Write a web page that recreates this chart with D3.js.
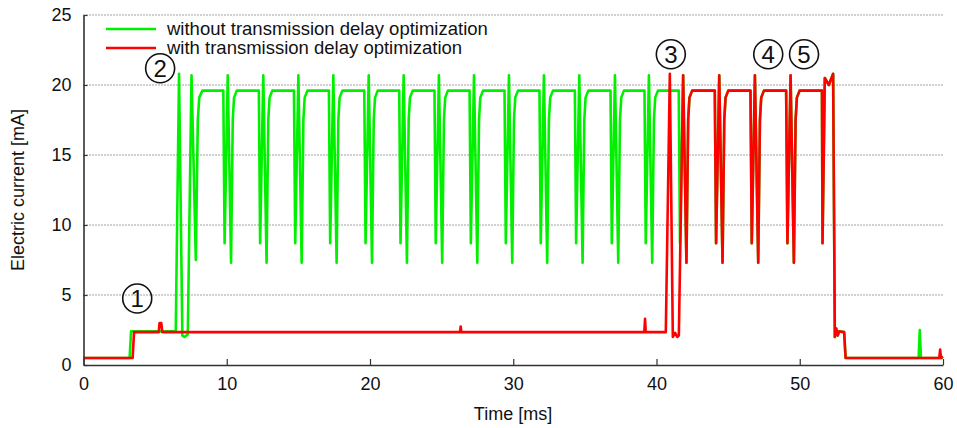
<!DOCTYPE html>
<html>
<head>
<meta charset="utf-8">
<script src="https://cdn.jsdelivr.net/npm/d3@7"></script>
<style>
  body { margin: 0; background: #fff; }
  svg text { font-family: "Liberation Sans", Arial, Helvetica, sans-serif; fill: #111; }
</style>
</head>
<body>
<svg id="chart" width="957" height="428"></svg>
<script>
// ---- axis ticks ----
const xTicks = [0, 10, 20, 30, 40, 50, 60];
const yTicks = [0, 5, 10, 15, 20, 25];
const gridTicks = [5, 10, 15, 20, 25];

// ---- series labels ----
const seriesNames = ["without transmission delay optimization", "with transmission delay optimization"];
const seriesColors = ["#00f000", "#ff0000"];

// ---- one radio burst: time offset from the burst peak [ms] and current [mA] ----
const burstOffsets = [-0.31, -0.22, 0, 0.23, 0.35, 0.44, 0.63];
const burstValues  = [19.6, 8.7, 20.7, 7.3, 17.5, 19.1, 19.6];

// ---- burst peak times [ms] ----
const greenBurstPeaks = [10.07, 12.55, 15.00, 17.44, 19.91, 22.35, 24.81, 27.26, 29.70, 32.14,
                         34.61, 37.10, 39.47, 41.86, 44.38, 46.87, 49.36];
const redBurstPeaks   = [44.38, 46.87, 49.36];

// ---- current before the periodic bursts [ms, mA] ----
const greenStart = [[0, 0.5], [3.22, 0.5], [3.32, 2.4], [6.44, 2.4], [6.67, 20.8], [6.90, 2.1],
                    [7.05, 2.0], [7.28, 2.2], [7.54, 20.7], [7.84, 7.5], [7.98, 17.5], [8.08, 19.1], [8.30, 19.6]];
const redStart   = [[0, 0.5], [3.43, 0.5], [3.53, 2.35], [5.25, 2.35], [5.31, 3.0], [5.43, 3.0], [5.50, 2.35],
                    [26.28, 2.35], [26.33, 2.75], [26.38, 2.35], [39.15, 2.35], [39.20, 3.3], [39.25, 2.35],
                    [40.65, 2.35], [40.93, 20.8], [41.14, 2.0], [41.30, 2.3], [41.45, 2.0], [41.56, 2.1],
                    [41.86, 20.7], [42.09, 7.3], [42.21, 17.5], [42.30, 19.1], [42.49, 19.6]];

// ---- current after the bursts [ms, mA] ----
const greenEnd = [[51.55, 19.6], [51.59, 8.7], [51.75, 20.5], [52.03, 20.0], [52.33, 20.8], [52.45, 2.0],
                  [52.55, 2.6], [52.65, 2.1], [52.75, 2.4], [53.10, 2.35], [53.20, 0.5],
                  [58.30, 0.5], [58.38, 2.5], [58.46, 0.5], [60, 0.5]];
const redEnd   = [[51.55, 19.6], [51.59, 8.7], [51.75, 20.5], [52.03, 20.0], [52.33, 20.8], [52.45, 2.0],
                  [52.55, 2.6], [52.65, 2.1], [52.75, 2.4], [53.10, 2.35], [53.20, 0.5],
                  [59.74, 0.5], [59.80, 1.1], [59.86, 0.5], [60, 0.6]];

// ---- circled event markers [ms, mA, label] ----
const markerTimes  = [3.75, 5.35, 41.0, 47.8, 50.3];
const markerValues = [4.75, 21.2, 22.2, 22.2, 22.2];
const markerLabels = ["1", "2", "3", "4", "5"];

// assemble a series from its lead-in, bursts and tail
function buildSeries(start, peaks, end) {
  const pts = start.slice();
  peaks.forEach(p => burstOffsets.forEach((o, i) => pts.push([p + o, burstValues[i]])));
  return pts.concat(end);
}
const greenSeries = buildSeries(greenStart, greenBurstPeaks, greenEnd);
const redSeries   = buildSeries(redStart, redBurstPeaks, redEnd);

const svg = d3.select("#chart");
const x = d3.scaleLinear().domain([0, 60]).range([83.5, 943]);
const y = d3.scaleLinear().domain([0, 25]).range([365, 15]);

// horizontal dotted grid
svg.append("g").selectAll("line").data(gridTicks).join("line")
  .attr("x1", x(0)).attr("x2", x(60))
  .attr("y1", d => y(d)).attr("y2", d => y(d))
  .attr("stroke", "#444").attr("stroke-width", 1)
  .attr("stroke-dasharray", "1,2");

// data lines
const line = d3.line().x(d => x(d[0])).y(d => y(d[1]));
[greenSeries, redSeries].forEach((s, i) => {
  svg.append("path").datum(s)
    .attr("d", line)
    .attr("fill", "none")
    .attr("stroke", seriesColors[i])
    .attr("stroke-width", 2.6)
    .attr("stroke-linejoin", "round");
});

// axes
const xAxis = d3.axisBottom(x).tickValues(xTicks).tickSizeInner(-6).tickSizeOuter(0).tickPadding(12);
const yAxis = d3.axisLeft(y).tickValues(yTicks).tickSizeInner(-4).tickSizeOuter(0).tickPadding(12);

const gx = svg.append("g").attr("transform", `translate(0,${y(0)})`).call(xAxis);
const gy = svg.append("g").attr("transform", `translate(${x(0)},0)`).call(yAxis);
[gx, gy].forEach(g => {
  g.select(".domain").attr("stroke", "#333").attr("stroke-width", 1.6);
  g.selectAll(".tick line").attr("stroke", "#333").attr("stroke-width", 1.2);
  g.selectAll(".tick text").attr("font-size", 18).attr("fill", "#111")
    .attr("font-family", "'Liberation Sans', Arial, sans-serif");
});

// axis titles
svg.append("text").attr("x", 513).attr("y", 420).attr("text-anchor", "middle")
  .attr("font-size", 18).text("Time [ms]");
svg.append("text").attr("transform", `translate(24,${y(12.5)}) rotate(-90)`)
  .attr("text-anchor", "middle").attr("font-size", 18).text("Electric current [mA]");

// legend
const legend = svg.append("g");
seriesNames.forEach((name, i) => {
  const ly = 29 + i * 19;
  legend.append("line").attr("x1", 106).attr("x2", 156).attr("y1", ly).attr("y2", ly)
    .attr("stroke", seriesColors[i]).attr("stroke-width", 2.6);
  legend.append("text").attr("x", 167).attr("y", ly + 6.3).attr("font-size", 18.5).text(name);
});

// circled event markers
const marks = svg.append("g");
markerLabels.forEach((lab, i) => {
  const cx = x(markerTimes[i]), cy = y(markerValues[i]);
  marks.append("circle").attr("cx", cx).attr("cy", cy).attr("r", 14.5)
    .attr("fill", "none").attr("stroke", "#111").attr("stroke-width", 1.6);
  marks.append("text").attr("x", cx).attr("y", cy + 8.5).attr("text-anchor", "middle")
    .attr("font-size", 24).text(lab);
});
</script>
</body>
</html>
